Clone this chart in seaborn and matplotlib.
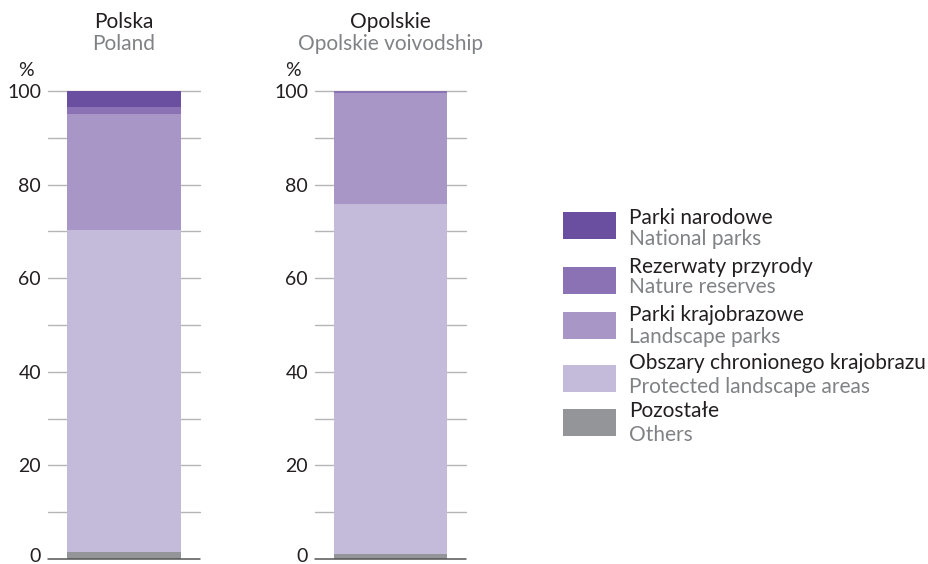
import numpy as np
import pandas as pd
import matplotlib.pyplot as plt
import matplotlib.transforms as mtransforms
import seaborn as sns
from matplotlib.patches import Rectangle

# category order: bottom -> top of the stacked bar
categories_pl = ["Pozostałe", "Obszary chronionego krajobrazu", "Parki krajobrazowe",
                 "Rezerwaty przyrody", "Parki narodowe"]
categories_en = ["Others", "Protected landscape areas", "Landscape parks",
                 "Nature reserves", "National parks"]
colors = ["#939598", "#c4bbda", "#a796c6", "#8a72b4", "#6a4fa0"]

poland = [1.5, 68.8, 24.8, 1.5, 3.4]
opolskie = [1.1, 74.8, 23.7, 0.4, 0.0]

panels = [
    ("Polska", "Poland", poland),
    ("Opolskie", "Opolskie voivodship", opolskie),
]

sns.set_style("white")
plt.rcParams["font.family"] = ["Lato", "DejaVu Sans"]

W, H = 929, 564
fig = plt.figure(figsize=(W / 100, H / 100), dpi=100)

DARK_TXT = "#231f20"
GRAY_TXT = "#808285"
axes_px = [(48, 200), (315, 466)]
y0_px, y100_px = 559, 91

for (title_pl, title_en, values), (xl, xr) in zip(panels, axes_px):
    ax = fig.add_axes([xl / W, 1 - y0_px / H, (xr - xl) / W, (y0_px - y100_px) / H])
    cum = np.cumsum(values)
    # draw from the full stack down so smaller sums overlay
    for i in range(len(values) - 1, -1, -1):
        df = pd.DataFrame({"g": [title_pl], "v": [cum[i]]})
        sns.barplot(data=df, x="g", y="v", color=colors[i], saturation=1,
                    width=0.75, linewidth=0, ax=ax, zorder=2)
    ax.set_ylim(0, 100)
    ax.set_xlim(-0.5, 0.5)
    for y in range(10, 101, 10):
        ax.axhline(y, color="#b5b5b5", lw=1, zorder=1, clip_on=False)
    ax.axhline(0, color="#555555", lw=1.1, zorder=3, clip_on=False)
    ax.set_yticks(range(0, 101, 20))
    ax.set_yticklabels([str(t) for t in range(0, 101, 20)], fontsize=14, color=DARK_TXT)
    ax.tick_params(axis="y", length=0, pad=5)
    # nudge the "0" label up a bit so it stays inside the canvas
    lab0 = ax.get_yticklabels()[0]
    lab0.set_transform(lab0.get_transform() +
                       mtransforms.ScaledTranslation(0, 4 / 100, fig.dpi_scale_trans))
    ax.set_xticks([])
    ax.set_xlabel("")
    ax.set_ylabel("")
    sns.despine(ax=ax, left=True, bottom=True)
    cx = (xl + xr) / 2 / W
    fig.text(cx, 1 - 22 / H, title_pl, ha="center", va="center", fontsize=15, color=DARK_TXT)
    fig.text(cx, 1 - 44 / H, title_en, ha="center", va="center", fontsize=15, color=GRAY_TXT)
    fig.text((xl - 22) / W, 1 - 70 / H, "%", ha="center", va="center", fontsize=14, color=DARK_TXT)

# legend, top entry first
patch_tops = [212, 267, 312, 365, 409]
pl_base = [224, 273, 321, 369, 417]
en_base = [245, 293, 343, 393, 441]
for k, top in enumerate(patch_tops):
    i = len(categories_pl) - 1 - k
    fig.add_artist(Rectangle((563 / W, 1 - (top + 27) / H), 53 / W, 27 / H,
                             transform=fig.transFigure, color=colors[i], lw=0))
    fig.text(629 / W, 1 - pl_base[k] / H, categories_pl[i], ha="left", va="baseline",
             fontsize=15, color=DARK_TXT)
    fig.text(629 / W, 1 - en_base[k] / H, categories_en[i], ha="left", va="baseline",
             fontsize=15, color=GRAY_TXT)

fig.savefig("out.png", dpi=100)
